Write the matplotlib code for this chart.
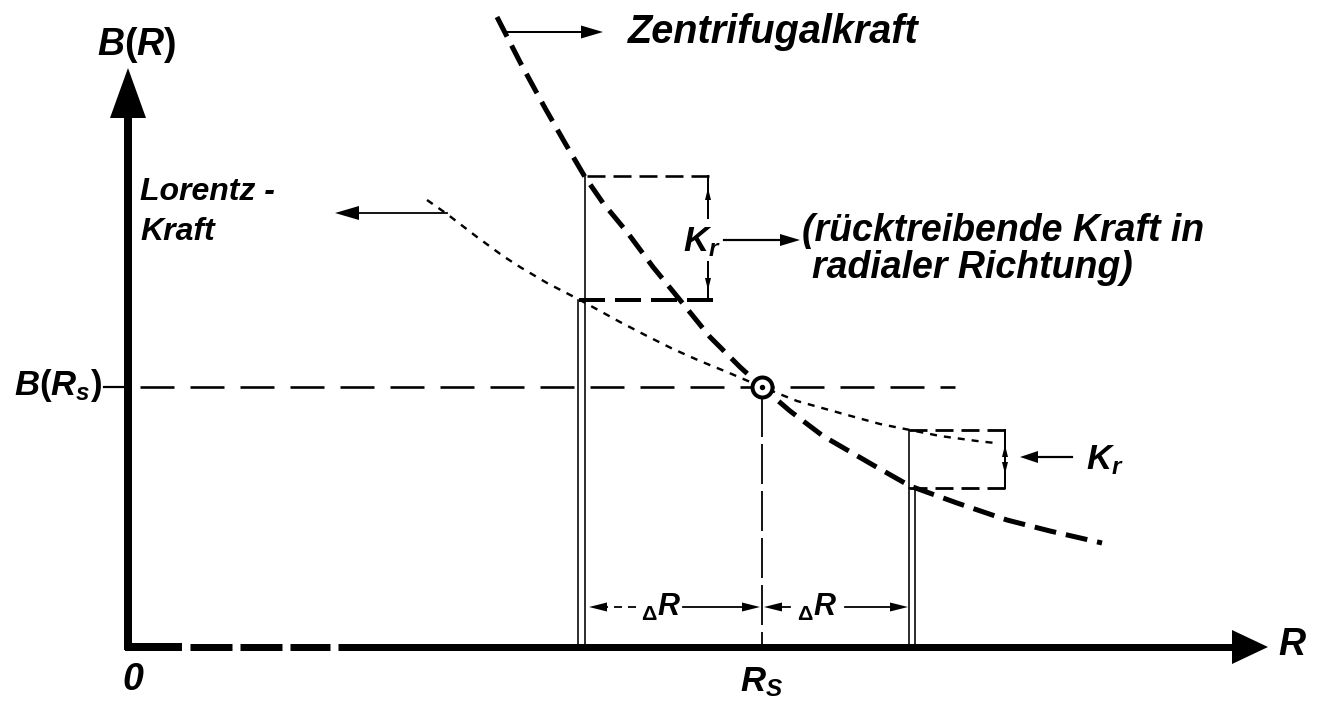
import matplotlib
matplotlib.use("Agg")
import matplotlib.pyplot as plt
import numpy as np

# ---------------- data (pixel-like schematic units) ----
# Lorentz force curve B(R)
lorentz_r = [427, 447, 477, 503, 520, 547, 580, 620, 647, 673, 700, 727, 762,
             797, 840, 880, 910, 940, 977, 995]
lorentz_b = [200, 214, 237, 256, 267, 283, 300, 322, 336, 349, 361, 372, 387,
             401, 413, 424, 430, 436, 441, 443]
# Centrifugal force curve
zentri_r = [497, 520, 545, 565, 585, 603, 627, 653, 680, 710, 740, 762, 790,
            823, 873, 910, 957, 1007, 1050, 1102]
zentri_b = [17, 62, 108, 143, 177, 203, 232, 267, 300, 337, 367, 387, 411,
            436, 465, 486, 503, 520, 531, 543]
# characteristic positions
R_s, B_s = 762, 387             # equilibrium point
R_left, R_right = 583, 911      # R_s - dR, R_s + dR
B_left_z, B_left_l = 176, 300   # curve values at R_left
B_right_l, B_right_z = 430, 488 # curve values at R_right

# ---------------- styling -----------------------------------------------------
plt.rcParams['lines.scale_dashes'] = False
plt.rcParams['mathtext.fontset'] = 'custom'
plt.rcParams['mathtext.it'] = 'Liberation Sans:italic:bold'
plt.rcParams['mathtext.rm'] = 'Liberation Sans:bold'
plt.rcParams['mathtext.bf'] = 'Liberation Sans:italic:bold'
FAM = ['Liberation Sans', 'DejaVu Sans']
PT = 0.72  # points per pixel at dpi 100

fig = plt.figure(figsize=(13.29, 7.03), dpi=100)
ax = fig.add_axes([0, 0, 1, 1])
ax.set_xlim(0, 1329)
ax.set_ylim(703, 0)
ax.axis('off')


def head(tip, direction, length, width):
    d = np.array(direction, float)
    d /= np.hypot(*d)
    p = np.array([-d[1], d[0]])
    tip = np.array(tip, float)
    base = tip - d * length
    pts = np.array([tip, base + p * width / 2, base - p * width / 2])
    ax.fill(pts[:, 0], pts[:, 1], color='k', lw=0, zorder=5)


def txt(x, y, s, size, ha='left', va='center', weight='bold'):
    ax.text(x, y, s, fontsize=size, ha=ha, va=va, family=FAM,
            style='italic', weight=weight, color='k')


K = 'k'
# ---------------- axes --------------------------------------------------------
x0, y0 = 128, 647
ax.plot([x0, x0], [y0 + 3, 110], color=K, lw=8 * PT, solid_capstyle='butt')
head((x0, 68), (0, -1), 50, 36)
ax.plot([x0 - 3, 182], [y0, y0], color=K, lw=8 * PT, solid_capstyle='butt')
ax.plot([190, 330], [y0, y0], color=K, lw=7 * PT,
        dashes=(42 * PT, 8 * PT), solid_capstyle='butt')
ax.plot([338, 1236], [y0, y0], color=K, lw=7 * PT, solid_capstyle='butt')
head((1268, y0), (1, 0), 36, 34)

# B(R_s) reference line and tick
ax.plot([104, x0], [B_s, B_s], color=K, lw=2.2 * PT)
ax.plot([140, 955], [B_s, B_s], color=K, lw=2.6 * PT, dashes=(34 * PT, 16 * PT))
# R_s reference
ax.plot([R_s, R_s], [B_s + 10, y0], color=K, lw=1.8 * PT, dashes=(40 * PT, 7 * PT))

# ---------------- curves ------------------------------------------------------
ax.plot(lorentz_r, lorentz_b, color=K, lw=2.4 * PT, dashes=(7 * PT, 7 * PT))
ax.plot(zentri_r, zentri_b, color=K, lw=5 * PT, dashes=(22 * PT, 10 * PT))

# equilibrium marker
ax.plot([R_s], [B_s], 'o', ms=20 * PT, mfc='white', mec=K, mew=4 * PT, zorder=6)
ax.plot([R_s], [B_s], 'o', ms=4 * PT, color=K, zorder=7)

# ---------------- left box ----------------------------------------------------
ax.plot([R_left + 2, R_left + 2], [B_left_z, B_left_l], color=K, lw=1.6 * PT)
for dx in (-5, 2):
    ax.plot([R_left + dx, R_left + dx], [B_left_l, y0], color=K, lw=1.6 * PT)
ax.plot([R_left + 4, 716], [B_left_z, B_left_z], color=K, lw=2.6 * PT,
        dashes=(18 * PT, 8 * PT))
ax.plot([R_left - 4, 716], [B_left_l, B_left_l], color=K, lw=4 * PT,
        dashes=(26 * PT, 10 * PT))
xd = 708
ax.plot([xd, xd], [B_left_z, 218], color=K, lw=2 * PT)
ax.plot([xd, xd], [262, B_left_l], color=K, lw=2 * PT)
head((xd, 188), (0, -1), 12, 6)
head((xd, 290), (0, 1), 12, 6)
txt(683, 242, r'$K_r$', 25)
ax.plot([724, 785], [240, 240], color=K, lw=2.2 * PT)
head((800, 240), (1, 0), 20, 12)
txt(802, 231, '(rücktreibende Kraft in', 27)
txt(812, 268, 'radialer Richtung)', 27)

# ---------------- right box ---------------------------------------------------
ax.plot([R_right - 2, R_right - 2], [B_right_l, B_right_z], color=K, lw=1.6 * PT)
for dx in (-2, 4):
    ax.plot([R_right + dx, R_right + dx], [B_right_z, y0], color=K, lw=1.6 * PT)
ax.plot([R_right - 2, 1008], [B_right_l, B_right_l], color=K, lw=2.8 * PT,
        dashes=(18 * PT, 8 * PT))
ax.plot([R_right - 2, 1008], [B_right_z, B_right_z], color=K, lw=2.8 * PT,
        dashes=(18 * PT, 8 * PT))
xd2 = 1005
ax.plot([xd2, xd2], [B_right_l, B_right_z], color=K, lw=2 * PT)
head((xd2, 445), (0, -1), 12, 6)
head((xd2, 474), (0, 1), 12, 6)
ax.plot([1035, 1072], [457, 457], color=K, lw=2.2 * PT)
head((1020, 457), (-1, 0), 18, 12)
txt(1086, 460, r'$K_r$', 25)

# ---------------- ΔR dimensions ----------------------------------------------
yd = 607
ax.plot([600, 640], [yd, yd], color=K, lw=1.8 * PT, dashes=(8 * PT, 6 * PT))
head((589, yd), (-1, 0), 18, 9)
ax.plot([683, 745], [yd, yd], color=K, lw=1.8 * PT)
head((760, yd), (1, 0), 18, 9)
head((764, yd), (-1, 0), 18, 9)
ax.plot([780, 790], [yd, yd], color=K, lw=1.8 * PT)
ax.plot([845, 893], [yd, yd], color=K, lw=1.8 * PT)
head((908, yd), (1, 0), 18, 9)
txt(661, yd, r'${}_{\Delta}R$', 22, ha='center')
txt(817, yd, r'${}_{\Delta}R$', 22, ha='center')

# ---------------- arrows to curve labels -------------------------------------
ax.plot([506, 585], [32, 32], color=K, lw=2 * PT)
head((603, 32), (1, 0), 22, 13)
txt(628, 32, 'Zentrifugalkraft', 28.5)

ax.plot([447, 355], [213, 213], color=K, lw=1.8 * PT)
head((335, 213), (-1, 0), 24, 14)
txt(140, 192, 'Lorentz -', 23)
txt(140, 232, 'Kraft', 23)

# ---------------- axis labels -------------------------------------------------
txt(137, 45, r'$B(R)$', 27, ha='center')
txt(58, 385, r'$B(R_s)$', 25, ha='center')
txt(133, 680, '0', 27, ha='center')
txt(1292, 645, r'$R$', 27, ha='center')
txt(762, 682, r'$R_S$', 25, ha='center')

fig.savefig('out.png', dpi=100)
